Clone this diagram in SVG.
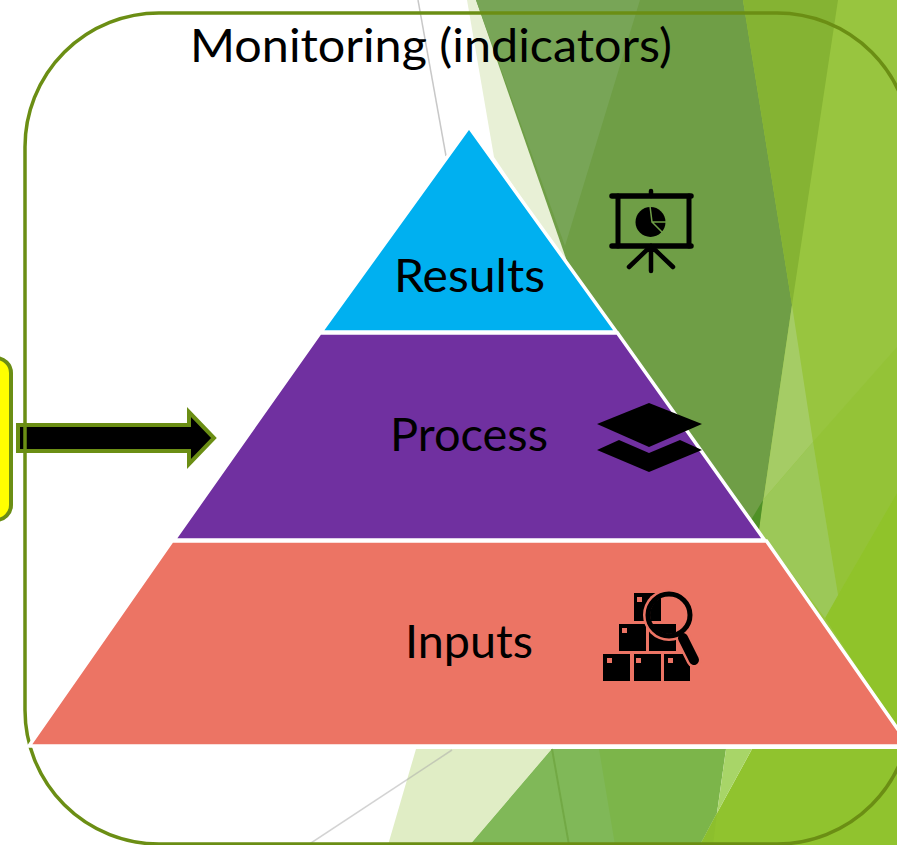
<svg xmlns="http://www.w3.org/2000/svg" width="897" height="845" viewBox="0 0 897 845">
<style>
.lbl{font-family:"Lato","Open Sans",sans-serif;fill:#000;text-anchor:middle}
.tier{stroke:#fff;stroke-width:3.5;stroke-linejoin:miter}
.ol{stroke:#6b8e14;fill:none}
.ik{fill:#000}
.ln{stroke:#000;fill:none;stroke-linecap:round}
</style>
<defs>
<clipPath id="lens"><circle cx="669" cy="615" r="19"/></clipPath>
</defs>
<rect width="897" height="845" fill="#fff"/>
<g id="background">
<line x1="418" y1="0" x2="446" y2="156" stroke="#c8c8c8" stroke-width="1.5"/>
<polygon points="467,0 494,157 570,270 480,0" fill="#e8f0d6"/>
<polygon points="743,0 897,0 897,745 770,745 759,530" fill="#98c53f"/>
<polygon points="476,0 743,0 792,305 759,530 570,270" fill="#6f9e46"/>
<polygon points="476,0 640,0 565,246" fill="#78a557"/>
<polygon points="743,0 838,0 792,305" fill="#85b333"/>
<polygon points="897,347 813,442 838,595 897,493" fill="#94c337"/>
<polygon points="897,493 838,595 825,618 908,745 897,745" fill="#90c32a"/>
<polygon points="792,305 813,442 763,500 759,530" fill="#a5cc65"/>
<polygon points="813,442 838,595 825,618 759,530 763,500" fill="#9cc858"/>
<polygon points="763,500 759,530 748,525" fill="#4f9126"/>
<polygon points="416,749 552,749 470,845 388,845" fill="#e0edc5"/>
<polygon points="752,749 897,749 897,845 700,845 717,813" fill="#90c32e"/>
<polygon points="552,749 726,749 717,813 700,845 470,845" fill="#7cb54a"/>
<polygon points="552,749 599,749 615,845 470,845" fill="#80b858"/>
<line x1="552" y1="749" x2="569" y2="845" stroke="#72a945" stroke-width="2"/>
<polygon points="726,749 752,749 717,813" fill="#a8d568"/>
<polygon points="717,813 713,845 700,845" fill="#8cbf2d"/>
<line x1="452" y1="750" x2="308" y2="845" stroke="#a8a8a8" stroke-opacity="0.5" stroke-width="1.500"/>
</g>
<g id="source-box">
<rect x="-50" y="358" width="61" height="162" rx="15" fill="#ff0" stroke="#6b8e14" stroke-width="4"/>
</g>
<g id="connectors">
<polygon points="18,425 189,425 189,412 214,438 189,464 189,451 18,451" fill="#000" stroke="#6b8e14" stroke-width="4"/>
</g>
<g id="monitoring-frame">
<rect class="ol" x="25" y="13" width="886" height="831" rx="134" stroke-width="3.500"/>
<text class="lbl" x="431" y="62" font-size="46" textLength="482" lengthAdjust="spacingAndGlyphs">Monitoring (indicators)</text>
</g>
<g id="results">
<polygon class="tier" points="469,127 616.500,332 321,332" fill="#00b0f0"/>
<text class="lbl" x="469.500" y="292" font-size="46" textLength="151" lengthAdjust="spacingAndGlyphs">Results</text>
<g id="results-icon">
<path class="ln" stroke-width="5.500" d="M612,196H691M612,246H691"/>
<path class="ln" stroke-width="4.500" d="M651,191V196"/>
<path class="ln" stroke-width="5" d="M618,196V246M689,196V246"/>
<path class="ln" stroke-width="4.500" d="M651,246V271M651,246L629,267M651,246L673,267"/>
<circle class="ik" cx="650.500" cy="222" r="15"/>
<path d="M650,206L652,222H668M652,222L664,234" fill="none" stroke="#6f9e46" stroke-width="1.500"/>
</g>
</g>
<g id="process">
<polygon class="tier" points="320,333 617.500,333 764.500,540 174,540" fill="#7030a0"/>
<text class="lbl" x="469" y="451" font-size="46" textLength="158" lengthAdjust="spacingAndGlyphs">Process</text>
<g id="process-icon">
<polygon class="ik" points="597,424 649,403 702,424 649,447"/>
<polygon class="ik" points="597,450 619,440 649,453 680,440 702,450 649,472"/>
</g>
</g>
<g id="inputs">
<polygon class="tier" points="172,541 766.500,541 909.500,746 29,746" fill="#ec7464"/>
<text class="lbl" x="469" y="658" font-size="46" textLength="128" lengthAdjust="spacingAndGlyphs">Inputs</text>
<g id="inputs-icon">
<rect class="ik" x="603" y="654" width="27" height="27"/>
<rect class="ik" x="634" y="654" width="27" height="27"/>
<rect class="ik" x="664" y="654" width="26" height="27"/>
<rect class="ik" x="619" y="624" width="27" height="27"/>
<rect class="ik" x="649" y="624" width="27" height="27"/>
<rect class="ik" x="634" y="593" width="27" height="28"/>
<g fill="#ec7464">
<rect x="607" y="658" width="5" height="5"/>
<rect x="636" y="658" width="5" height="5"/>
<rect x="668" y="658" width="5" height="5"/>
<rect x="622" y="628" width="5" height="5"/>
<rect x="637" y="597" width="5" height="5"/>
</g>
<line x1="683" y1="638" x2="694" y2="660" stroke="#ec7464" stroke-width="15" stroke-linecap="round"/>
<circle cx="669" cy="615" r="26" fill="#ec7464"/>
<g clip-path="url(#lens)">
<rect class="ik" x="634" y="593" width="27" height="28"/>
<rect class="ik" x="649" y="624" width="27" height="27"/>
</g>
<circle cx="669" cy="615" r="21" fill="none" stroke="#000" stroke-width="5"/>
<line x1="683" y1="638" x2="694" y2="660" stroke="#000" stroke-width="10" stroke-linecap="round"/>
</g>
</g>
</svg>
